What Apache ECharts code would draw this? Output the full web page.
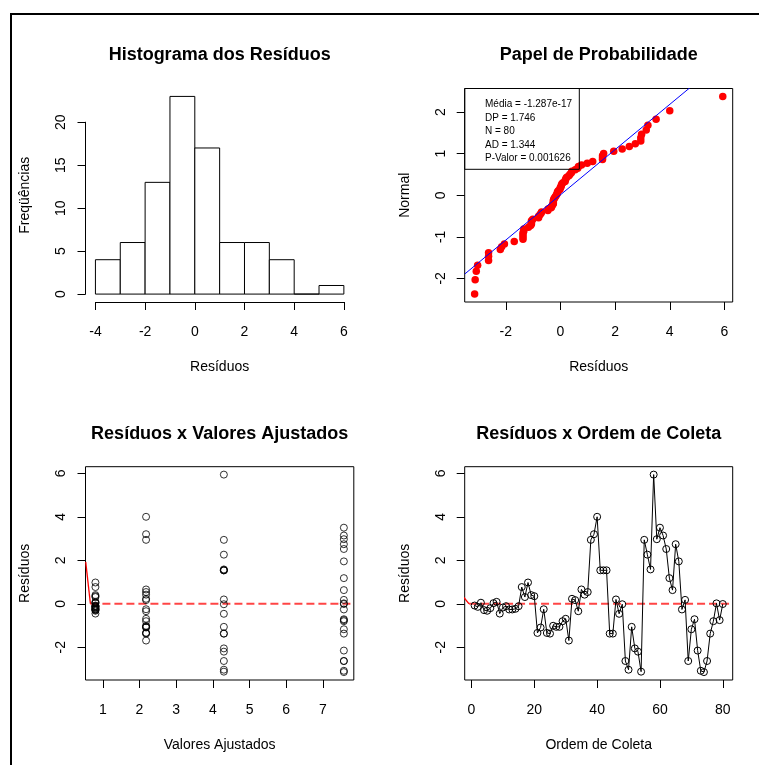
<!DOCTYPE html>
<html>
<head>
<meta charset="utf-8">
<script src="https://cdn.jsdelivr.net/npm/echarts@6/dist/echarts.min.js"></script>
<style>
  html, body { margin: 0; padding: 0; background: #fff; }
  #chart { width: 759px; height: 765px; }
</style>
</head>
<body>
<div id="chart"></div>
<script>
// ---- data -------------------------------------------------------------
// Residuals in collection order (observations 1..80)
const residuals = [
  -0.08, -0.14, 0.05, -0.29, -0.32, -0.20, 0.03, 0.09, -0.45, -0.17,
  -0.11, -0.26, -0.26, -0.23, -0.11, 0.77, 0.31, 0.98, 0.40, 0.35,
  -1.34, -1.09, -0.25, -1.34, -1.37, -1.01, -1.06, -1.06, -0.80, -0.69,
  -1.69, 0.23, 0.17, -0.34, 0.66, 0.42, 0.54, 2.94, 3.20, 4.00,
  1.54, 1.54, 1.54, -1.37, -1.37, 0.20, -0.46, -0.02, -2.63, -3.03,
  -1.06, -2.05, -2.20, -3.12, 2.94, 2.26, 1.58, 5.94,
  2.97, 3.50, 3.14, 2.52, 1.18, 0.63, 2.74, 1.95, -0.26, 0.18,
  -2.63, -1.17, -0.71, -2.15, -3.08, -3.14, -2.63, -1.37, -0.80, 0.02,
  -0.75, -0.01
];
// Consecutive runs of observations sharing a fitted value
const groupSizes = [20, 20, 18, 22];
const fittedLevels = [0.80, 2.18, 4.30, 7.57];

// Histogram of residuals
const histBreaks = [-4, -3, -2, -1, 0, 1, 2, 3, 4, 5, 6];
const histCounts = [4, 6, 13, 23, 17, 6, 6, 4, 0, 1];

// Summary statistics printed in the probability plot
const statsLines = ['Média = -1.287e-17', 'DP = 1.746', 'N = 80', 'AD = 1.344', 'P-Valor = 0.001626'];
// Reference line of the probability plot: normal score = slope * residual + intercept
const qqLineSlope = 0.544;
const qqLineIntercept = 0.01;

// Short red lead-in segments before the zero reference lines
const fitLeadSegment = [[0.535, 1.93], [0.663, 0]];
const orderLeadSegment = [[-2.87, 0.37], [-0.77, 0]];

// Tick values
const histXTicks = [-4, -2, 0, 2, 4, 6];
const histYTicks = [0, 5, 10, 15, 20];
const qqXTicks = [-2, 0, 2, 4, 6];
const qqYTicks = [-2, -1, 0, 1, 2];
const fitXTicks = [1, 2, 3, 4, 5, 6, 7];
const residTicks = [-2, 0, 2, 4, 6];
const orderTicks = [0, 20, 40, 60, 80];

const panelTitles = ['Histograma dos Resíduos', 'Papel de Probabilidade',
                     'Resíduos x Valores Ajustados', 'Resíduos x Ordem de Coleta'];

// ---- helpers ----------------------------------------------------------
const FONT = '"Liberation Sans", Arial, Helvetica, sans-serif';

// Inverse standard normal CDF (Acklam's rational approximation)
function qnorm(p) {
  const a = [-3.969683028665376e+01, 2.209460984245205e+02, -2.759285104469687e+02,
             1.383577518672690e+02, -3.066479806614716e+01, 2.506628277459239e+00];
  const b = [-5.447609879822406e+01, 1.615858368580409e+02, -1.556989798598866e+02,
             6.680131188771972e+01, -1.328068155288572e+01];
  const c = [-7.784894002430293e-03, -3.223964580411365e-01, -2.400758277161838e+00,
             -2.549732539343734e+00, 4.374664141464968e+00, 2.938163982698783e+00];
  const d = [7.784695709041462e-03, 3.224671290700398e-01, 2.445134137142996e+00,
             3.754408661907416e+00];
  const pl = 0.02425, ph = 1 - pl;
  let q, r;
  if (p < pl) {
    q = Math.sqrt(-2 * Math.log(p));
    return (((((c[0]*q+c[1])*q+c[2])*q+c[3])*q+c[4])*q+c[5]) / ((((d[0]*q+d[1])*q+d[2])*q+d[3])*q+1);
  }
  if (p <= ph) {
    q = p - 0.5; r = q * q;
    return (((((a[0]*r+a[1])*r+a[2])*r+a[3])*r+a[4])*r+a[5])*q / (((((b[0]*r+b[1])*r+b[2])*r+b[3])*r+b[4])*r+1);
  }
  q = Math.sqrt(-2 * Math.log(1 - p));
  return -(((((c[0]*q+c[1])*q+c[2])*q+c[3])*q+c[4])*q+c[5]) / ((((d[0]*q+d[1])*q+d[2])*q+d[3])*q+1);
}

// 4% padding on each side of a data range
function pad(lo, hi) { const d = (hi - lo) * 0.04; return [lo - d, hi + d]; }

// ---- derived series ---------------------------------------------------
const n = residuals.length;
const fitted = [];
groupSizes.forEach((size, g) => { for (let k = 0; k < size; k++) fitted.push(fittedLevels[g]); });

const resMin = Math.min(...residuals), resMax = Math.max(...residuals);
const resRange = pad(resMin, resMax);

const sortedRes = residuals.slice().sort((x, y) => x - y);
const qqPoints = sortedRes.map((v, i) => [v, qnorm((i + 1 - 0.3) / (n + 0.4))]);
const zMax = Math.max(...qqPoints.map(p => Math.abs(p[1])));
const qqYRange = pad(-zMax, zMax);
const qqLinePts = resRange.map(x => [x, qqLineSlope * x + qqLineIntercept]);

const fitRange = pad(Math.min(...fittedLevels), Math.max(...fittedLevels));
const orderRange = pad(1, n);

// ---- layout (plot regions in px) --------------------------------------
const R = {
  hist: { x0: 85.5,  x1: 353.8, y0: 88.5,  y1: 302 },
  qq:   { x0: 464.7, x1: 732.7, y0: 88.5,  y1: 302 },
  fit:  { x0: 85.5,  x1: 353.8, y0: 466.7, y1: 680 },
  ord:  { x0: 464.7, x1: 732.7, y0: 466.7, y1: 680 }
};

// histogram axes are detached from the frame (R style): compute inner grid
const hx = pad(histBreaks[0], histBreaks[histBreaks.length - 1]);
const hy = pad(0, Math.max(...histCounts));
const hsx = (R.hist.x1 - R.hist.x0) / (hx[1] - hx[0]);
const hsy = (R.hist.y1 - R.hist.y0) / (hy[1] - hy[0]);
const hLeft = R.hist.x0 + (histXTicks[0] - hx[0]) * hsx;
const hRight = R.hist.x0 + (histXTicks[histXTicks.length - 1] - hx[0]) * hsx;
const hBottom = R.hist.y1 - (histYTicks[0] - hy[0]) * hsy;
const hTop = R.hist.y1 - (histYTicks[histYTicks.length - 1] - hy[0]) * hsy;
const hPlotMidY = (R.hist.y0 + R.hist.y1) / 2;
const hAxisMidY = (hTop + hBottom) / 2;

function boxGrid(r) {
  return { left: r.x0, top: r.y0, width: r.x1 - r.x0, height: r.y1 - r.y0,
           show: true, borderColor: '#000', borderWidth: 1,
           backgroundColor: 'transparent', outerBoundsMode: 'none' };
}

function axis(kind, gridIndex, name, extra, ticks) {
  const base = {
    type: 'value', gridIndex, name,
    position: kind === 'x' ? 'bottom' : 'left',
    axisLine: { show: false, onZero: false, lineStyle: { color: '#000', width: 1 } },
    axisTick: { show: true, inside: false, length: 8, lineStyle: { color: '#000', width: 1 } },
    axisLabel: { fontFamily: FONT, fontSize: 14, color: '#000',
                 margin: kind === 'x' ? 23 : 17, rotate: kind === 'y' ? 90 : 0 },
    splitLine: { show: false },
    nameLocation: 'middle',
    nameGap: kind === 'x' ? 58.5 : 53,
    nameTextStyle: { fontFamily: FONT, fontSize: 14, color: '#000' }
  };
  if (ticks) {
    base.axisTick.customValues = ticks;
    base.axisLabel.customValues = ticks;
  }
  return Object.assign(base, extra || {});
}

const titleGraphics = panelTitles.map((t, i) => {
  const r = [R.hist, R.qq, R.fit, R.ord][i];
  return {
    type: 'text', x: (r.x0 + r.x1) / 2, y: i < 2 ? 55.5 : 434, z: 100,
    style: { text: t, font: 'bold 18px ' + FONT, fill: '#000',
             align: 'center', verticalAlign: 'middle' }
  };
});

const option = {
  animation: false,
  backgroundColor: '#fff',
  grid: [
    { left: hLeft, top: hTop, width: hRight - hLeft, height: hBottom - hTop, outerBoundsMode: 'none' },
    boxGrid(R.qq),
    boxGrid(R.fit),
    boxGrid(R.ord)
  ],
  xAxis: [
    axis('x', 0, 'Resíduos', {
      min: histXTicks[0], max: histXTicks[histXTicks.length - 1], interval: 2,
      offset: R.hist.y1 - hBottom,
      axisLine: { show: true, onZero: false, lineStyle: { color: '#000', width: 1 } }
    }),
    axis('x', 1, 'Resíduos', { min: resRange[0], max: resRange[1] }, qqXTicks),
    axis('x', 2, 'Valores Ajustados', { min: fitRange[0], max: fitRange[1] }, fitXTicks),
    axis('x', 3, 'Ordem de Coleta', { min: orderRange[0], max: orderRange[1] }, orderTicks)
  ],
  yAxis: [
    axis('y', 0, 'Freqüências', {
      min: histYTicks[0], max: histYTicks[histYTicks.length - 1], interval: 5,
      offset: hLeft - R.hist.x0,
      axisLine: { show: true, onZero: false, lineStyle: { color: '#000', width: 1 } },
      nameTextStyle: { fontFamily: FONT, fontSize: 14, color: '#000',
                       padding: [0, 0, 0, 2 * (hAxisMidY - hPlotMidY)] }
    }),
    axis('y', 1, 'Normal', { min: qqYRange[0], max: qqYRange[1] }, qqYTicks),
    axis('y', 2, 'Resíduos', { min: resRange[0], max: resRange[1] }, residTicks),
    axis('y', 3, 'Resíduos', { min: resRange[0], max: resRange[1] }, residTicks)
  ],
  series: [
    {
      type: 'custom', name: 'hist', xAxisIndex: 0, yAxisIndex: 0, clip: false,
      data: histCounts.map((c, i) => [histBreaks[i], histBreaks[i + 1], c]),
      encode: { x: [0, 1], y: 2 },
      renderItem: function (params, api) {
        const p0 = api.coord([api.value(0), 0]);
        const p1 = api.coord([api.value(1), api.value(2)]);
        return {
          type: 'rect',
          shape: { x: p0[0], y: p1[1], width: p1[0] - p0[0], height: p0[1] - p1[1] },
          style: { fill: '#fff', stroke: '#000', lineWidth: 1 }
        };
      }
    },
    {
      type: 'scatter', xAxisIndex: 1, yAxisIndex: 1, data: qqPoints,
      symbol: 'circle', symbolSize: 7.5, itemStyle: { color: '#ff0000', opacity: 1 }, z: 3
    },
    {
      type: 'line', xAxisIndex: 1, yAxisIndex: 1, data: qqLinePts, symbol: 'none',
      lineStyle: { color: '#0000ff', width: 1 }, z: 4
    },
    {
      type: 'scatter', xAxisIndex: 2, yAxisIndex: 2,
      data: residuals.map((r, i) => [fitted[i], r]),
      symbol: 'circle', symbolSize: 7,
      itemStyle: { color: 'rgba(0,0,0,0)', borderColor: '#000', borderWidth: 1 }
    },
    {
      type: 'line', xAxisIndex: 2, yAxisIndex: 2, data: fitLeadSegment, symbol: 'none',
      lineStyle: { color: '#ff0000', width: 1.3 }
    },
    {
      type: 'line', xAxisIndex: 2, yAxisIndex: 2,
      data: [fitLeadSegment[1], [fitRange[1], 0]], symbol: 'none',
      lineStyle: { color: '#ff4545', width: 2, type: [8, 4] }, z: 1
    },
    {
      type: 'line', xAxisIndex: 3, yAxisIndex: 3,
      data: residuals.map((r, i) => [i + 1, r]),
      symbol: 'circle', symbolSize: 7, showAllSymbol: true,
      lineStyle: { color: '#000', width: 1 },
      itemStyle: { color: 'rgba(0,0,0,0)', borderColor: '#000', borderWidth: 1 }, z: 3
    },
    {
      type: 'line', xAxisIndex: 3, yAxisIndex: 3, data: orderLeadSegment, symbol: 'none',
      lineStyle: { color: '#ff0000', width: 1.3 }
    },
    {
      type: 'line', xAxisIndex: 3, yAxisIndex: 3,
      data: [orderLeadSegment[1], [orderRange[1], 0]], symbol: 'none',
      lineStyle: { color: '#ff4545', width: 2, type: [8, 4] }, z: 1
    }
  ],
  graphic: [
    // outer frame
    { type: 'rect', z: 100, shape: { x: 11, y: 14, width: 800, height: 800 },
      style: { fill: 'none', stroke: '#000', lineWidth: 2 } },
    // statistics box in the probability plot
    { type: 'rect', z: 100,
      shape: { x: R.qq.x0, y: R.qq.y0, width: 114.6, height: 80.8 },
      style: { fill: 'none', stroke: '#000', lineWidth: 1 } },
    { type: 'text', z: 101, x: 485, y: 98,
      style: { text: statsLines.join('\n'), font: '10px ' + FONT, lineHeight: 13.4,
               fill: '#000', align: 'left', verticalAlign: 'top' } }
  ].concat(titleGraphics)
};

const chart = echarts.init(document.getElementById('chart'));
chart.setOption(option);
</script>
</body>
</html>
